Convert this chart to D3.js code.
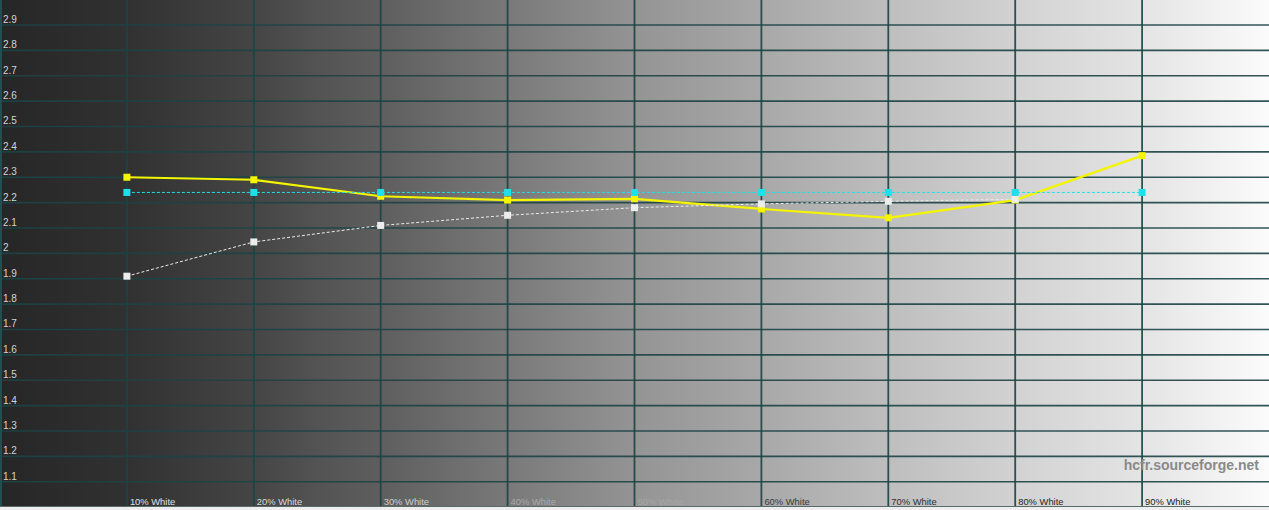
<!DOCTYPE html>
<html>
<head>
<meta charset="utf-8">
<script src="https://cdn.jsdelivr.net/npm/d3@7"></script>
<style>
  html, body { margin: 0; padding: 0; background: #eeeeee; overflow: hidden; }
  svg { display: block; }
</style>
</head>
<body>
<svg id="chart" width="1269" height="510"></svg>
<script>
// ---- data ----
const categories = ["10% White", "20% White", "30% White", "40% White", "50% White",
                    "60% White", "70% White", "80% White", "90% White"];
const levels = [10, 20, 30, 40, 50, 60, 70, 80, 90];
const gammaMeasured = [2.30, 2.29, 2.225, 2.21, 2.215, 2.175, 2.14, 2.21, 2.385];
const gammaReference = [1.91, 2.045, 2.11, 2.15, 2.18, 2.195, 2.205, 2.213, null];
const gammaTarget = [2.24, 2.24, 2.24, 2.24, 2.24, 2.24, 2.24, 2.24, 2.24];
const yTickValues = [1.1, 1.2, 1.3, 1.4, 1.5, 1.6, 1.7, 1.8, 1.9, 2, 2.1, 2.2, 2.3, 2.4, 2.5, 2.6, 2.7, 2.8, 2.9];
const watermark = "hcfr.sourceforge.net";

// ---- layout ----
const W = 1269, H = 507;
const svg = d3.select("#chart");
const x = d3.scaleLinear().domain([0, 100]).range([0, W]);
const y = d3.scaleLinear().domain([1, 3]).range([507.1, -0.4]);

// background gradient
const defs = svg.append("defs");
const grad = defs.append("linearGradient").attr("id", "bg")
  .attr("x1", "0%").attr("x2", "100%").attr("y1", "0%").attr("y2", "0%");
const stops = [
  [0, "#262626"], [10, "#313131"], [20, "#454545"], [25, "#535353"], [30, "#5e5e5e"],
  [40, "#797979"], [50, "#949494"], [60, "#a8a8a8"], [70, "#bebebe"],
  [80, "#d2d2d2"], [90, "#e4e4e4"], [100, "#fbfbfb"]
];
stops.forEach(s => grad.append("stop").attr("offset", s[0] + "%").attr("stop-color", s[1]));
svg.append("rect").attr("x", 0).attr("y", 0).attr("width", W).attr("height", H)
  .attr("fill", "url(#bg)");

// grid
const gridColor = "#1c4444";
svg.append("g").selectAll("line").data(yTickValues).join("line")
  .attr("x1", 0).attr("x2", W)
  .attr("y1", d => y(d)).attr("y2", d => y(d))
  .attr("stroke", gridColor).attr("stroke-width", 1.6).attr("opacity", 0.9);
svg.append("g").selectAll("line").data(levels).join("line")
  .attr("x1", d => x(d)).attr("x2", d => x(d))
  .attr("y1", 0).attr("y2", H)
  .attr("stroke", gridColor).attr("stroke-width", 1.8).attr("opacity", 0.9);
// left border
svg.append("line").attr("x1", 1).attr("x2", 1).attr("y1", 0).attr("y2", H)
  .attr("stroke", "#1f4f50").attr("stroke-width", 2);
svg.append("line").attr("x1", 0).attr("x2", W).attr("y1", H - 0.5).attr("y2", H - 0.5)
  .attr("stroke", "#5a6a6a").attr("stroke-width", 1);

// y labels
svg.append("g").selectAll("text").data(yTickValues).join("text")
  .attr("x", 3).attr("y", d => y(d) - 2)
  .attr("font-family", "Liberation Sans, Arial, sans-serif")
  .attr("font-size", 10).attr("fill", "#d4d4d4")
  .text(d => d3.format("~g")(d));

// x labels (text colour fixed light/dark, close to the background mid-range)
const labelColor = i => ["#e2e2e2", "#dadada", "#cfcfcf", "#a9a9a9", "#a6a6a6",
                         "#3a3a3a", "#2e2e2e", "#262626", "#222222"][i];
svg.append("g").selectAll("text").data(categories).join("text")
  .attr("x", (d, i) => x(levels[i]) + 3).attr("y", 505)
  .attr("font-family", "Liberation Sans, Arial, sans-serif")
  .attr("font-size", 9.4)
  .attr("fill", (d, i) => labelColor(i))
  .text(d => d);

// watermark
svg.append("text").attr("x", 1259).attr("y", 470).attr("text-anchor", "end")
  .attr("font-family", "Liberation Sans, Arial, sans-serif")
  .attr("font-weight", "bold").attr("font-size", 14).attr("fill", "#8a8a8a")
  .text(watermark);

function drawSeries(values, color, width, dash) {
  const pts = values.map((v, i) => ({ x: levels[i], v })).filter(p => p.v !== null);
  const line = d3.line().x(p => x(p.x)).y(p => y(p.v));
  svg.append("path").datum(pts).attr("d", line)
    .attr("fill", "none").attr("stroke", color).attr("stroke-width", width)
    .attr("stroke-dasharray", dash || null);
  svg.append("g").selectAll("rect").data(pts).join("rect")
    .attr("x", p => x(p.x) - 3.5).attr("y", p => y(p.v) - 3.5)
    .attr("width", 7).attr("height", 7).attr("fill", color);
}

drawSeries(gammaMeasured, "#f5f500", 2.2, null);
drawSeries(gammaReference, "#ececec", 1, "3,2");
drawSeries(gammaTarget, "#1ee0ea", 1, "3,2");
</script>
</body>
</html>
